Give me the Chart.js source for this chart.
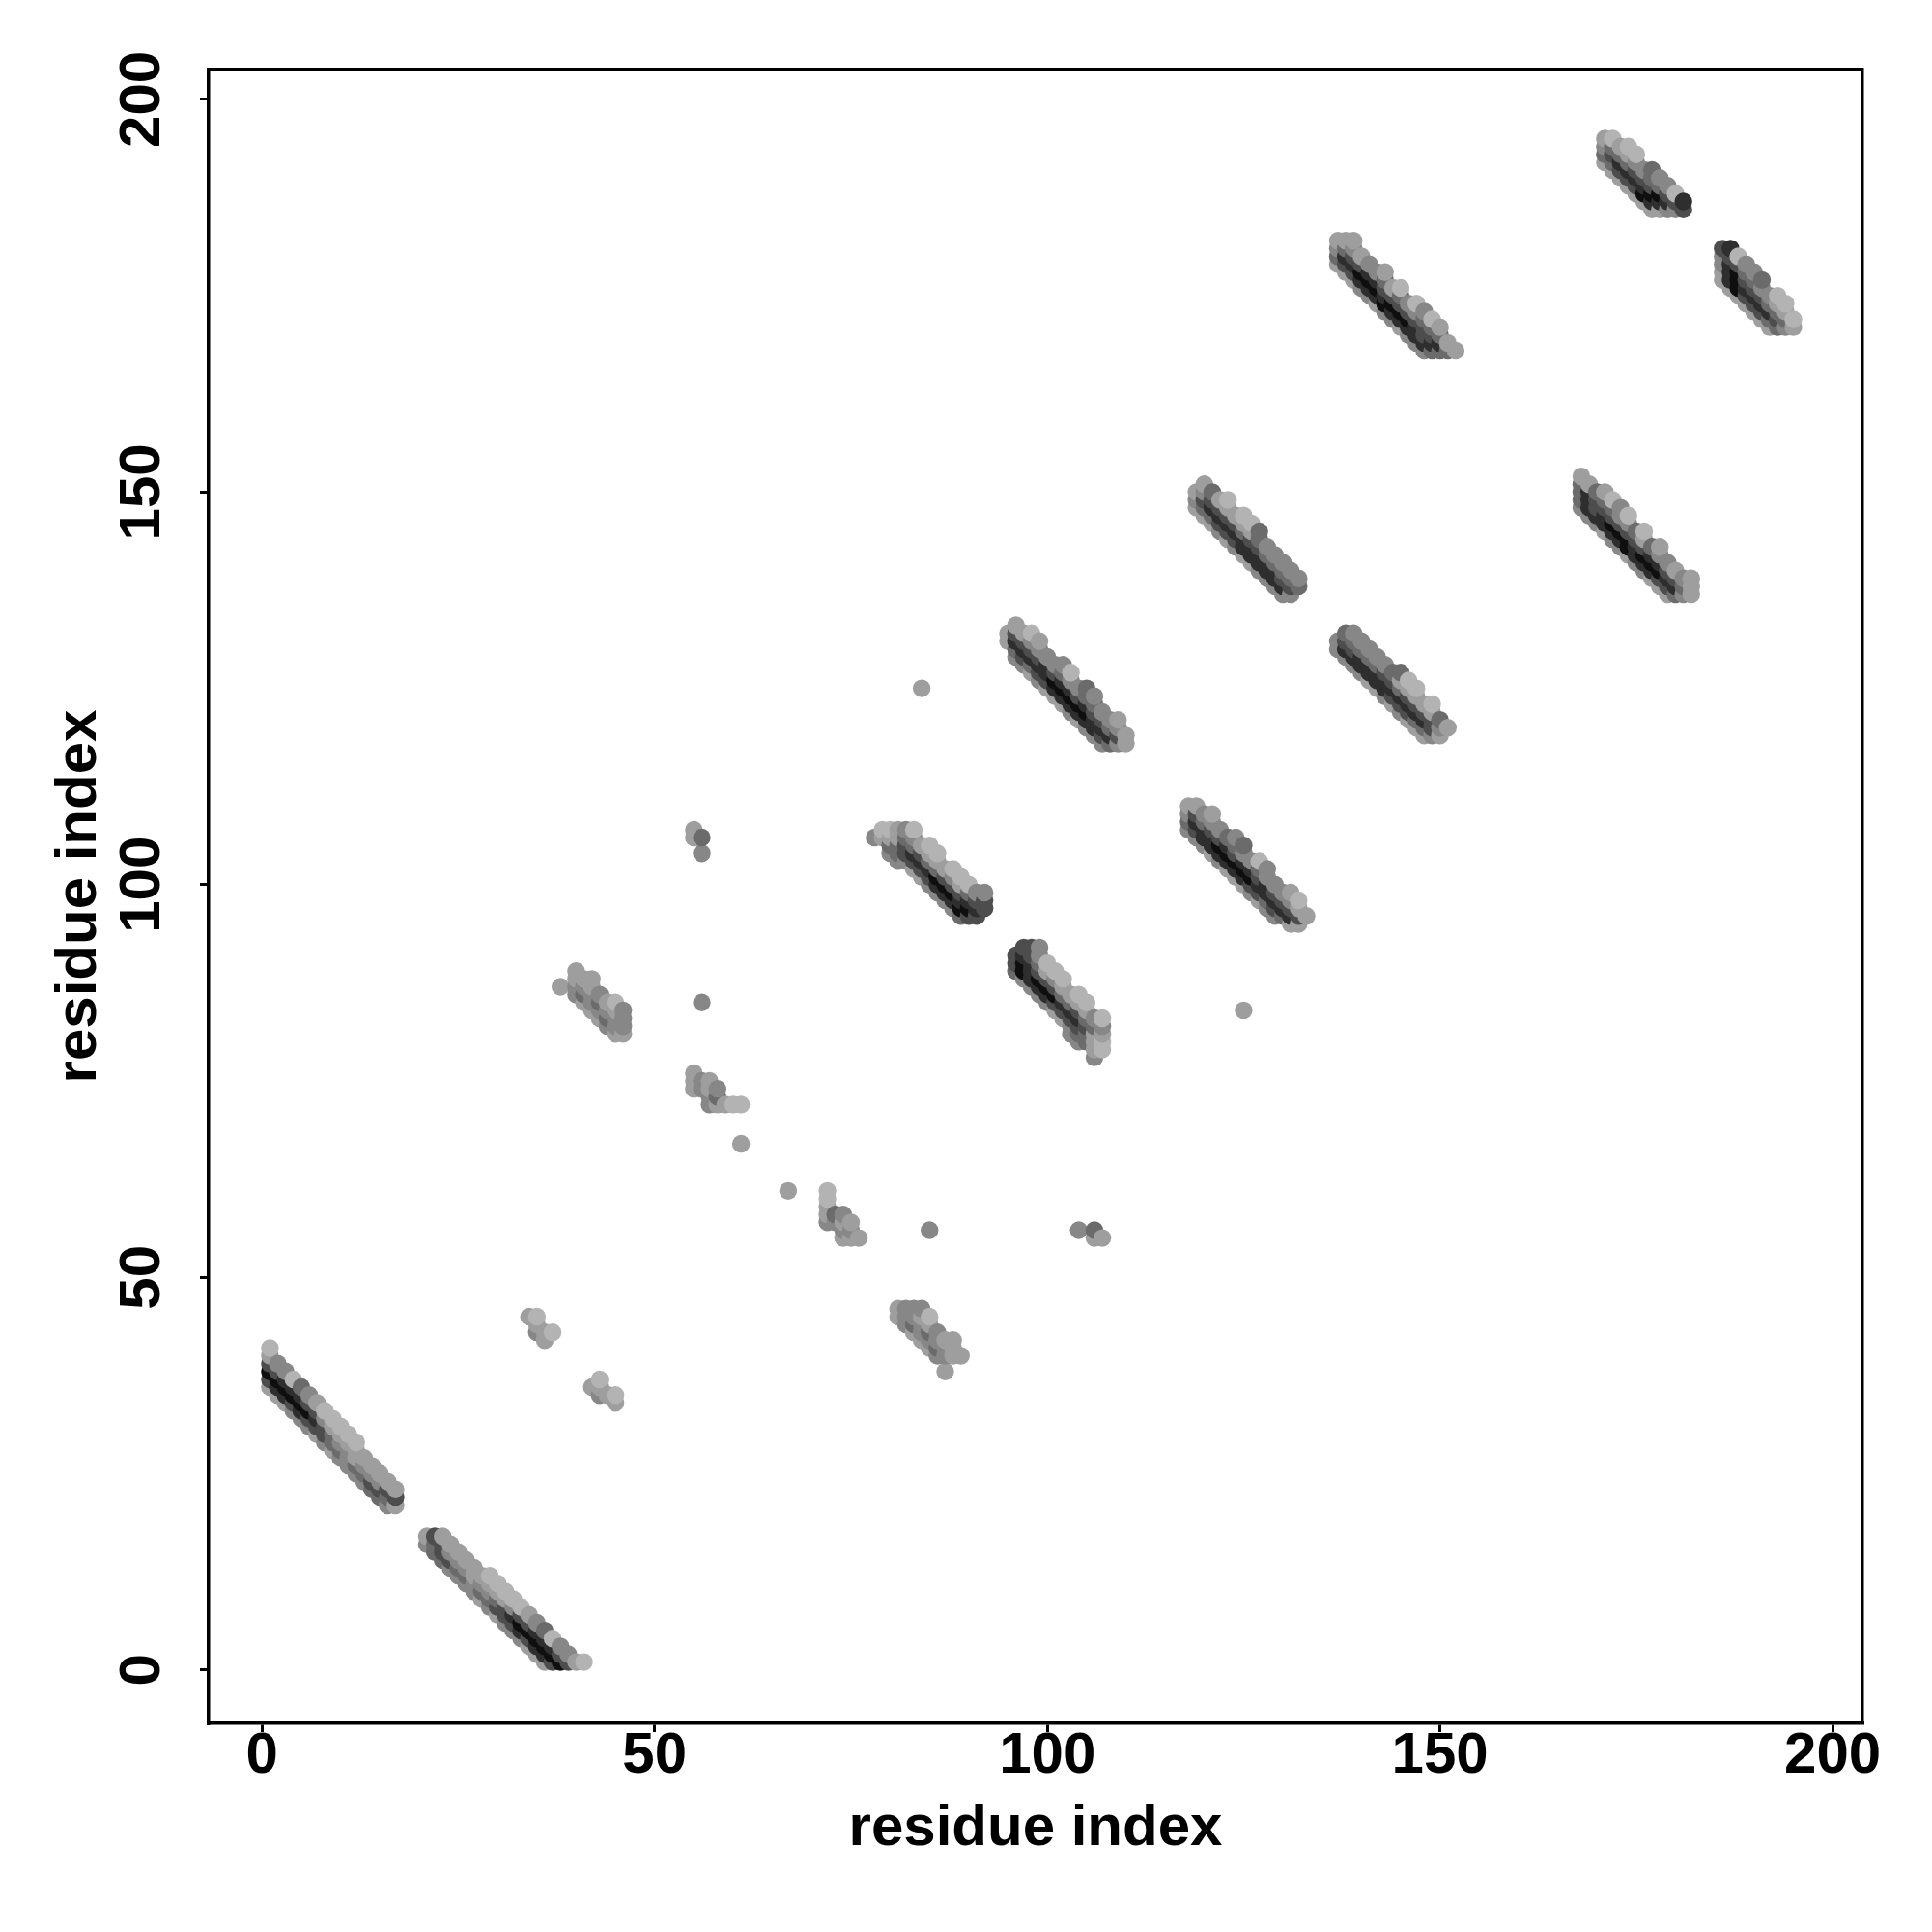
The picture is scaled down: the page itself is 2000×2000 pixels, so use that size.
<!DOCTYPE html>
<html>
<head>
<meta charset="utf-8">
<title>residue contact map</title>
<script src="https://cdn.jsdelivr.net/npm/chart.js@4.4.1/dist/chart.umd.min.js"></script>
<style>
    html, body { margin: 0; padding: 0; background: #fff; }
</style>
</head>
<body>
<canvas id="contactMap" width="2000" height="2000"></canvas>
<script>
// grey levels used by the shade codes '1' (light) .. '7' (near black)
const greyLevels = ['#b3b3b3', '#9e9e9e', '#878787', '#6b6b6b', '#4d4d4d', '#2e2e2e', '#0f0f0f'];

// contacts of the upper triangle: [residue i, first partner j, shade codes for j, j+1, ...]
// the map is symmetric, so every contact (i, j) is also drawn as (j, i)
const strandA = [
    [1, 36, '257521'], [2, 35, '26753'], [3, 34, '26763'], [4, 33, '35761'],
    [5, 32, '36764'], [6, 31, '35753'], [7, 30, '25652'], [8, 29, '35531'],
    [9, 28, '24421'], [10, 27, '34321'], [11, 26, '33321'], [12, 25, '34221'],
    [13, 24, '3432'], [14, 23, '4532'], [15, 22, '4532'], [16, 21, '3452'], [17, 21, '252']
];
const patch35 = [[34, 45, '2'], [35, 43, '321'], [36, 42, '22'], [37, 43, '1']];
const strand40 = [
    [38, 87, '2'], [40, 86, '3322'], [41, 85, '2432'], [42, 84, '23322'],
    [43, 83, '2343'], [44, 82, '3432'], [45, 81, '23321'], [46, 81, '2333']
];
const patch57 = [
    [55, 74, '222'], [56, 74, '33'], [57, 72, '3322'], [58, 72, '243'],
    [59, 72, '2'], [60, 72, '1'], [61, 72, '1']
];
const singles = [
    [56, 85, '3'], [61, 67, '2'], [55, 106, '22'], [56, 104, '3'], [56, 106, '4'], [84, 125, '2']
];
const strand80 = [
    [78, 106, '3'], [79, 106, '21'], [80, 104, '3421'], [81, 103, '34422'],
    [82, 103, '35543'], [83, 102, '256431'], [84, 101, '25652'], [85, 100, '356421'],
    [86, 99, '367421'], [87, 98, '36752'], [88, 97, '367531'], [89, 96, '476521'],
    [90, 96, '57641'], [91, 96, '5653'], [92, 97, '553']
];
const strand100 = [
    [95, 131, '22'], [96, 129, '34652'], [97, 128, '35652'], [98, 127, '246531'],
    [99, 126, '356532'], [100, 125, '25663'], [101, 124, '26753'], [102, 123, '267643'],
    [103, 122, '367631'], [104, 121, '26753'], [105, 120, '367644'], [106, 119, '366543'],
    [107, 118, '35653'], [108, 118, '4643'], [109, 118, '3532'], [110, 118, '22']
];
const strand125 = [
    [119, 148, '232'], [120, 147, '24532'], [121, 146, '24654'], [122, 145, '35652'],
    [123, 144, '256521'], [124, 143, '35652'], [125, 142, '266421'], [126, 141, '266521'],
    [127, 140, '366544'], [128, 139, '36643'], [129, 138, '36643'], [130, 137, '36543'],
    [131, 137, '3543'], [132, 138, '43']
];
const strand145 = [
    [137, 179, '2432'], [138, 178, '25642'], [139, 177, '256532'], [140, 176, '36752'],
    [141, 175, '36763'], [142, 174, '26763'], [143, 173, '376542'], [144, 172, '36752'],
    [145, 171, '267541'], [146, 170, '36753'], [147, 169, '366531'], [148, 168, '365543'],
    [149, 168, '46541'], [150, 168, '4642'], [151, 168, '42'], [152, 168, '2']
];
const strand175 = [
    [171, 192, '2432'], [172, 191, '24541'], [173, 190, '25642'], [174, 189, '256421'],
    [175, 188, '256531'], [176, 187, '27653'], [177, 186, '267544'], [178, 186, '26743'],
    [179, 186, '3653'], [180, 186, '351'], [181, 186, '56']
];

const tickValues = [0, 50, 100, 150, 200];
const axisTitle = 'residue index';
const axisMin = -6.8;
const axisMax = 203.8;

const fontFamily = '"Liberation Sans", Arial, Helvetica, sans-serif';

// expand the runs into points, both (i, j) and (j, i)
const contactRuns = [].concat(strandA, patch35, strand40, patch57, singles,
    strand80, strand100, strand125, strand145, strand175);
const points = [];
contactRuns.forEach(([i, j0, shades]) => {
    [...shades].forEach((code, k) => {
        const color = greyLevels[Number(code) - 1];
        points.push({ x: i, y: j0 + k, color });
        points.push({ x: j0 + k, y: i, color });
    });
});
points.sort((a, b) => a.x - b.x || a.y - b.y);

const setTicks = scale => { scale.ticks = tickValues.map(v => ({ value: v })); };

const ctx = document.getElementById('contactMap').getContext('2d');
new Chart(ctx, {
    type: 'scatter',
    data: {
        datasets: [{
            data: points,
            backgroundColor: points.map(p => p.color),
            borderWidth: 0,
            pointRadius: 9.2,
            pointHoverRadius: 9.2
        }]
    },
    options: {
        responsive: false,
        devicePixelRatio: 1,
        animation: false,
        events: [],
        layout: { padding: { left: 0, top: 72, right: 72, bottom: 0 } },
        plugins: {
            legend: { display: false },
            tooltip: { enabled: false }
        },
        scales: {
            x: {
                type: 'linear',
                position: 'bottom',
                min: axisMin,
                max: axisMax,
                afterBuildTicks: setTicks,
                afterFit: s => { s.height = 216; },
                ticks: {
                    color: '#000',
                    padding: 1,
                    maxRotation: 0,
                    font: { family: fontFamily, size: 60, weight: 'bold', lineHeight: 0.8 }
                },
                grid: { drawOnChartArea: false, drawTicks: true, tickLength: 9, lineWidth: 3, color: '#000' },
                border: { display: true, width: 3.5, color: '#000' },
                title: {
                    display: true,
                    text: axisTitle,
                    color: '#000',
                    padding: { top: 0, bottom: 71 },
                    font: { family: fontFamily, size: 60, weight: 'bold' }
                }
            },
            y: {
                type: 'linear',
                position: 'left',
                min: axisMin,
                max: axisMax,
                afterBuildTicks: setTicks,
                afterFit: s => { s.width = 216; },
                ticks: {
                    color: '#000',
                    padding: 8.5,
                    minRotation: 90,
                    maxRotation: 90,
                    crossAlign: 'center',
                    font: { family: fontFamily, size: 60, weight: 'bold' }
                },
                grid: { drawOnChartArea: false, drawTicks: true, tickLength: 9, lineWidth: 3, color: '#000' },
                border: { display: true, width: 3.5, color: '#000' },
                title: {
                    display: true,
                    text: axisTitle,
                    color: '#000',
                    padding: { top: 46, bottom: 0 },
                    font: { family: fontFamily, size: 60, weight: 'bold' }
                }
            },
            xTop: {
                type: 'linear',
                position: 'top',
                min: axisMin,
                max: axisMax,
                afterFit: s => { s.height = 0; },
                ticks: { display: false },
                grid: { display: false, drawTicks: false },
                border: { display: true, width: 3.5, color: '#000' }
            },
            yRight: {
                type: 'linear',
                position: 'right',
                min: axisMin,
                max: axisMax,
                afterFit: s => { s.width = 0; },
                ticks: { display: false },
                grid: { display: false, drawTicks: false },
                border: { display: true, width: 3.5, color: '#000' }
            }
        }
    }
});
</script>
</body>
</html>
